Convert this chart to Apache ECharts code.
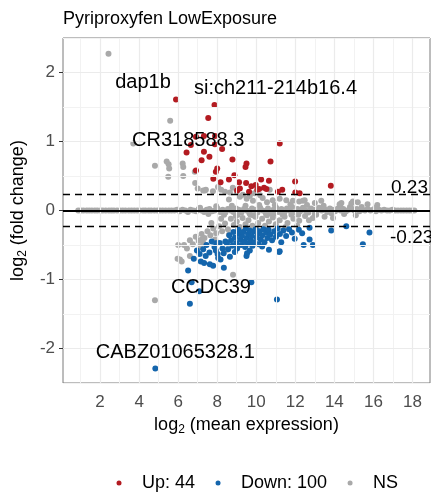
<!DOCTYPE html>
<html><head><meta charset="utf-8">
<script src="https://cdn.jsdelivr.net/npm/echarts@6/dist/echarts.min.js"></script>
<style>html,body{margin:0;padding:0;background:#fff}#c{width:431px;height:495px}</style>
</head><body><div id="c"></div>
<script>
const titleText = 'Pyriproxyfen LowExposure';
const xMajorTicks = [2,4,6,8,10,12,14,16,18];
const xMinorTicks = [1,3,5,7,9,11,13,15,17];
const yMajorTicks = [-2,-1,0,1,2];
const yMinorTicks = [-2.5,-1.5,-0.5,0.5,1.5,2.5];
const fcThreshold = 0.23;
const seriesNames = ['Up: 44','Down: 100','NS'];

const upPoints = [[5.89,1.61],[7.86,1.53],[7.54,1.34],[6.91,1.07],[7.32,1.08],[7.89,1.08],[7.88,0.96],[8.25,0.89],[6.43,0.84],[7.32,0.85],[11.2,0.97],[7.2,0.73],[8.78,0.74],[10.73,0.71],[9.5,0.68],[9.45,0.63],[8.0,0.61],[7.93,0.56],[6.91,0.58],[8.88,0.51],[7.8,0.46],[8.17,0.41],[9.12,0.41],[9.48,0.40],[9.97,0.37],[10.25,0.45],[10.65,0.43],[11.99,0.42],[13.82,0.36],[9.16,0.32],[9.63,0.27],[10.05,0.30],[10.15,0.31],[10.52,0.31],[11.11,0.27],[11.33,0.30],[12.0,0.26],[12.22,0.25],[9.75,0.35],[6.65,0.95],[7.6,0.78],[10.4,0.33],[8.6,0.45],[9.02,0.29]];

const downPoints = [[4.83,-2.29],[6.6,-1.35],[11.06,-1.29],[6.69,-1.04],[7.08,-1.17],[9.75,-1.04],[6.51,-0.87],[8.34,-0.83],[7.62,-0.78],[7.79,-0.80],[7.16,-0.74],[7.33,-0.76],[6.8,-0.70],[8.05,-0.69],[8.17,-0.71],[8.65,-0.67],[9.5,-0.66],[9.53,-0.62],[11.2,-0.59],[10.65,-0.57],[11.17,-0.60],[9.67,-0.58],[7.28,-0.56],[7.93,-0.58],[8.56,-0.56],[7.97,-0.47],[8.13,-0.47],[12.43,-0.50],[12.9,-0.50],[12.73,-0.42],[12.73,-0.25],[13.84,-0.29],[14.61,-0.23],[15.8,-0.32],[15.46,-0.49],
[7.45,-0.5],[7.6,-0.61],[7.72,-0.45],[7.86,-0.53],[8.02,-0.63],[8.27,-0.55],[8.42,-0.45],[8.33,-0.62],[7.41,-0.66],[7.1,-0.63],[6.96,-0.58],
[8.62,-0.36],[8.71,-0.43],[8.77,-0.51],[8.83,-0.31],[8.91,-0.39],[8.97,-0.47],[9.02,-0.55],[9.08,-0.28],[9.12,-0.34],[9.18,-0.42],[9.22,-0.5],[9.27,-0.37],[9.33,-0.31],[9.38,-0.45],[9.43,-0.53],[9.47,-0.26],[9.52,-0.4],[9.58,-0.34],[9.61,-0.48],[9.66,-0.29],[9.72,-0.43],[9.77,-0.37],[9.81,-0.51],[9.86,-0.3],[9.92,-0.46],[9.97,-0.27],[10.02,-0.39],[10.07,-0.34],[10.12,-0.49],[10.17,-0.3],[10.23,-0.42],[10.31,-0.36],[10.37,-0.27],[10.42,-0.46],[10.51,-0.32],[10.57,-0.4],[10.63,-0.28],[10.72,-0.35],[10.81,-0.43],[10.92,-0.3],[11.01,-0.38],[11.09,-0.26],[11.21,-0.34],[11.28,-0.46],[11.39,-0.29],[11.53,-0.37],[11.68,-0.27],[11.83,-0.32],[11.97,-0.41],[12.18,-0.28],[8.5,-0.48],[8.9,-0.6],[10.3,-0.52],[12.35,-0.33]];

const nsPoints = [
[0.88,0],[1.02,0],[1.15,0],[1.31,0],[1.44,0],[1.58,0],[1.73,0],[1.86,0],[2.01,0],[2.14,0],[2.29,0],[2.45,0],[2.58,0],[2.71,0],[2.87,0],[3.02,0],[3.16,0],[3.3,0],[3.47,0],[3.61,0],[3.75,0],[3.9,0],[4.04,0],[4.2,0],[4.33,0],[4.49,0],[4.62,0],[4.78,0],[4.93,0],[5.07,0],[5.21,0],[5.36,0],[5.52,0],[5.66,0],[5.81,0],[5.95,0.01],
[6.08,-0.01],[6.22,0.01],[6.37,0],[6.5,-0.02],[6.63,0.01],[6.78,0],[6.92,-0.01],[7.05,0.02],[7.19,0],[7.33,-0.02],[7.46,0.01],[7.6,0.02],[7.74,-0.01],[7.87,0],[8.01,0.03],[8.15,-0.02],[8.28,0.01],[8.42,-0.03],[8.55,0.02],[8.69,0],[8.83,-0.02],[8.96,0.03],[9.1,0.01],[9.24,-0.03],[9.37,0.02],[9.51,0],[9.65,-0.04],[9.78,0.03],[9.92,0.01],[10.06,-0.03],[10.2,0.04],[10.33,0],[10.47,-0.02],[10.6,0.03],[10.74,-0.04],[10.88,0.01],[11.02,0.04],[11.15,-0.02],[11.29,0.02],[11.43,-0.04],[11.57,0.03],[11.7,0],[11.84,0.05],[11.98,-0.03],[12.12,0.02],[12.25,-0.01],[12.39,0.04],[12.53,0],[12.67,-0.03],[12.8,0.03],[12.94,0.01],[13.08,-0.02],[13.22,0.04],[13.35,0],[13.49,0.02],[13.63,-0.02],[13.77,0.03],[13.9,0.01],[14.04,-0.01],[14.18,0.03],[14.32,0],[14.46,0.02],[14.6,-0.01],[14.74,0.01],[14.88,0.03],[15.01,0],[15.15,0.02],[15.29,-0.01],[15.43,0.01],[15.57,0],[15.71,0.02],[15.85,0],[15.99,0.01],[16.13,-0.01],[16.27,0.01],[16.41,0],[16.55,0.01],[16.7,0],[16.84,0],[16.98,0.01],[17.12,0],[17.26,0],[17.41,0],[17.55,0],[17.7,0],[17.84,0],[17.98,0],[18.1,0],
[7.12,0.04],[7.55,-0.05],[7.95,0.06],[8.35,-0.06],[8.75,0.07],[9.05,-0.06],[9.45,0.07],[9.85,-0.07],[10.15,0.08],[10.55,-0.07],[10.95,0.08],[11.35,-0.06],[11.75,0.09],[12.15,-0.06],[12.6,0.08],[13.0,-0.05],[13.45,0.07],[13.85,-0.04],[14.3,0.06],[14.8,0.05],[15.4,0.05],[16.1,0.04],
[13.33,0.14],[14.27,0.09],[14.87,0.10],[15.2,0.12],[14.36,0.11],[14.95,0.13],[12.39,0.14],[11.54,0.15],[11.88,0.14],[9.16,0.20],[9.31,0.23],[9.51,0.17],[9.67,0.21],[9.83,0.14],[10.2,0.22],[10.33,0.18],[10.84,0.15],[11.2,0.17],[12.2,0.13],[12.48,0.15],[10.55,0.12],[8.6,0.16],[13.0,0.11],[16.2,0.08],[15.7,0.09],
[7.28,0.29],[7.42,0.30],[7.78,0.28],[8.04,0.34],[8.2,0.30],[8.4,0.27],[8.65,0.26],[8.8,0.33],[10.69,0.30],[7.37,0.29],[6.87,0.40],[7.0,0.32],[2.43,2.27],[5.59,1.30],[3.70,0.97],[4.81,0.65],[5.41,0.71],[5.51,0.67],[5.54,0.61],[6.23,0.68],[6.26,0.63],[5.49,0.49],[6.26,0.50],[6.85,0.56],[9.0,0.27],[9.9,0.25],
[12.9,-0.11],[13.07,-0.06],[13.93,-0.11],[12.5,-0.08],[12.2,-0.15],[11.9,-0.12],[11.6,-0.18],[11.45,-0.09],[11.2,-0.14],[11.0,-0.2],[10.85,-0.1],[10.65,-0.16],[10.45,-0.22],[10.3,-0.12],[10.1,-0.18],[9.95,-0.09],[9.8,-0.22],[9.6,-0.14],[9.45,-0.2],[9.3,-0.11],[9.15,-0.24],[9.0,-0.16],[8.85,-0.21],[8.7,-0.12],[8.55,-0.27],[8.4,-0.19],[8.25,-0.3],[8.1,-0.23],[7.95,-0.33],[7.8,-0.26],[7.65,-0.36],[7.5,-0.3],[7.35,-0.4],[7.2,-0.34],[7.05,-0.44],[6.9,-0.38],[6.75,-0.49],[6.6,-0.43],[6.45,-0.55],[6.3,-0.5],[6.0,-0.50],[6.09,-0.71],[6.18,-0.74],[6.6,-0.66],[5.97,-0.70],[7.11,-0.52],[7.28,-0.47],[7.2,-0.42],[8.81,-0.93],[8.48,-0.57],[4.81,-1.30],[10.9,-0.05],[11.8,-0.06],[12.7,-0.14],[14.5,-0.05],[15.1,-0.07],[13.5,-0.09],[10.5,-0.05],[9.7,-0.06],[8.95,-0.08],[8.2,-0.12],[7.7,-0.18],[9.25,-0.3],[10.0,-0.27],[8.6,-0.35],[7.9,-0.42],[11.5,-0.24],[12.1,-0.22]];

const geneNames = ['dap1b','si:ch211-214b16.4','CR318588.3','CCDC39','CABZ01065328.1'];
const geneX = [5.89,7.86,7.54,6.6,4.83];
const geneY = [1.61,1.53,1.34,-1.35,-2.29];

// label offsets in pixels (style, not data)
const geneOffsets = [[-33,-17],[61,-16],[-20,22],[21,-16],[20,-16]];

const FONT = 'Liberation Sans, Arial, Helvetica, sans-serif';
const chart = echarts.init(document.getElementById('c'), null, {renderer: 'canvas'});

const gridLines = [];
xMinorTicks.forEach(v => gridLines.push({xAxis: v, lineStyle: {color: '#F2F2F2', width: 1, type: 'solid'}}));
yMinorTicks.forEach(v => gridLines.push({yAxis: v, lineStyle: {color: '#F2F2F2', width: 1, type: 'solid'}}));
xMajorTicks.forEach(v => gridLines.push({xAxis: v, lineStyle: {color: '#EBEBEB', width: 1.2, type: 'solid'}}));
yMajorTicks.forEach(v => gridLines.push({yAxis: v, lineStyle: {color: '#EBEBEB', width: 1.2, type: 'solid'}}));

const subRich = {
  b: {fontSize: 18, color: '#000', fontFamily: FONT, lineHeight: 22},
  s: {fontSize: 12, color: '#000', fontFamily: FONT, lineHeight: 12, verticalAlign: 'bottom'}
};

chart.setOption({
  animation: false,
  backgroundColor: '#fff',
  title: {text: titleText, left: 63, top: 10, padding: 0,
    textStyle: {fontSize: 18, fontWeight: 'normal', color: '#000', fontFamily: FONT}},
  legend: {
    data: seriesNames, left: 111.5, top: 469, icon: 'circle', padding: 5,
    itemWidth: 5, itemHeight: 5, itemGap: 20.5,
    textStyle: {fontSize: 18, color: '#000', fontFamily: FONT, padding: [0,0,0,15.5]}
  },
  grid: {left: 63, right: 1, top: 38, bottom: 112, show: true, borderColor: '#7a7a7a', borderWidth: 1, backgroundColor: 'transparent'},
  xAxis: {
    type: 'value', min: 0.1, max: 18.9,
    name: '{b|log}{s|2}{b| (mean expression)}', nameLocation: 'middle', nameGap: 31,
    nameTextStyle: {rich: subRich},
    axisLine: {show: false},
    axisTick: {show: true, length: 4, lineStyle: {color: '#333'}, customValues: xMajorTicks},
    axisLabel: {fontSize: 17, color: '#4D4D4D', fontFamily: FONT, margin: 11, customValues: xMajorTicks},
    splitLine: {show: false}
  },
  yAxis: {
    type: 'value', min: -2.5, max: 2.5,
    name: '{b|log}{s|2}{b| (fold change)}', nameLocation: 'middle', nameGap: 32, nameRotate: 90,
    nameTextStyle: {rich: subRich},
    axisLine: {show: false},
    axisTick: {show: true, length: 4, lineStyle: {color: '#333'}, customValues: yMajorTicks},
    axisLabel: {fontSize: 17, color: '#4D4D4D', fontFamily: FONT, margin: 8, customValues: yMajorTicks},
    splitLine: {show: false}
  },
  series: [
    {type: 'scatter', name: 'gridlines', data: [], z: 0, silent: true,
     markLine: {silent: true, symbol: 'none', animation: false, label: {show: false}, data: gridLines}},
    {type: 'scatter', name: seriesNames[2], data: nsPoints, symbolSize: 6, z: 2,
     itemStyle: {color: '#A9A9A9', opacity: 1}},
    {type: 'scatter', name: seriesNames[0], data: upPoints, symbolSize: 6, z: 3,
     itemStyle: {color: '#B31B21', opacity: 1}},
    {type: 'scatter', name: seriesNames[1], data: downPoints, symbolSize: 6, z: 3,
     itemStyle: {color: '#1465AC', opacity: 1}},
    {type: 'scatter', name: 'thresholds', data: [], z: 5, silent: true,
     markLine: {silent: true, symbol: 'none', animation: false, data: [
       {yAxis: 0, lineStyle: {color: '#000', width: 2, type: 'solid'}, label: {show: false}},
       {yAxis: fcThreshold, lineStyle: {color: '#000', width: 1.3, type: [7,5]},
        label: {show: true, position: 'insideEndTop', align: 'left', formatter: String(fcThreshold), color: '#000', fontSize: 19, fontFamily: FONT, distance: [39, -3]}},
       {yAxis: -fcThreshold, lineStyle: {color: '#000', width: 1.3, type: [7,5]},
        label: {show: true, position: 'insideEndBottom', align: 'left', formatter: String(-fcThreshold), color: '#000', fontSize: 19, fontFamily: FONT, distance: [40, 2]}}
     ]}}
  ]
});

// gene annotations placed through the chart's own coordinate conversion
const geneGraphics = geneNames.map((n, i) => {
  const p = chart.convertToPixel({gridIndex: 0}, [geneX[i], geneY[i]]);
  return {type: 'text', z: 100, silent: true,
    x: p[0] + geneOffsets[i][0], y: p[1] + geneOffsets[i][1],
    style: {text: n, fill: '#000', fontSize: 20, fontFamily: FONT, align: 'center', verticalAlign: 'middle'}};
});
chart.setOption({graphic: geneGraphics});
</script>
</body></html>
